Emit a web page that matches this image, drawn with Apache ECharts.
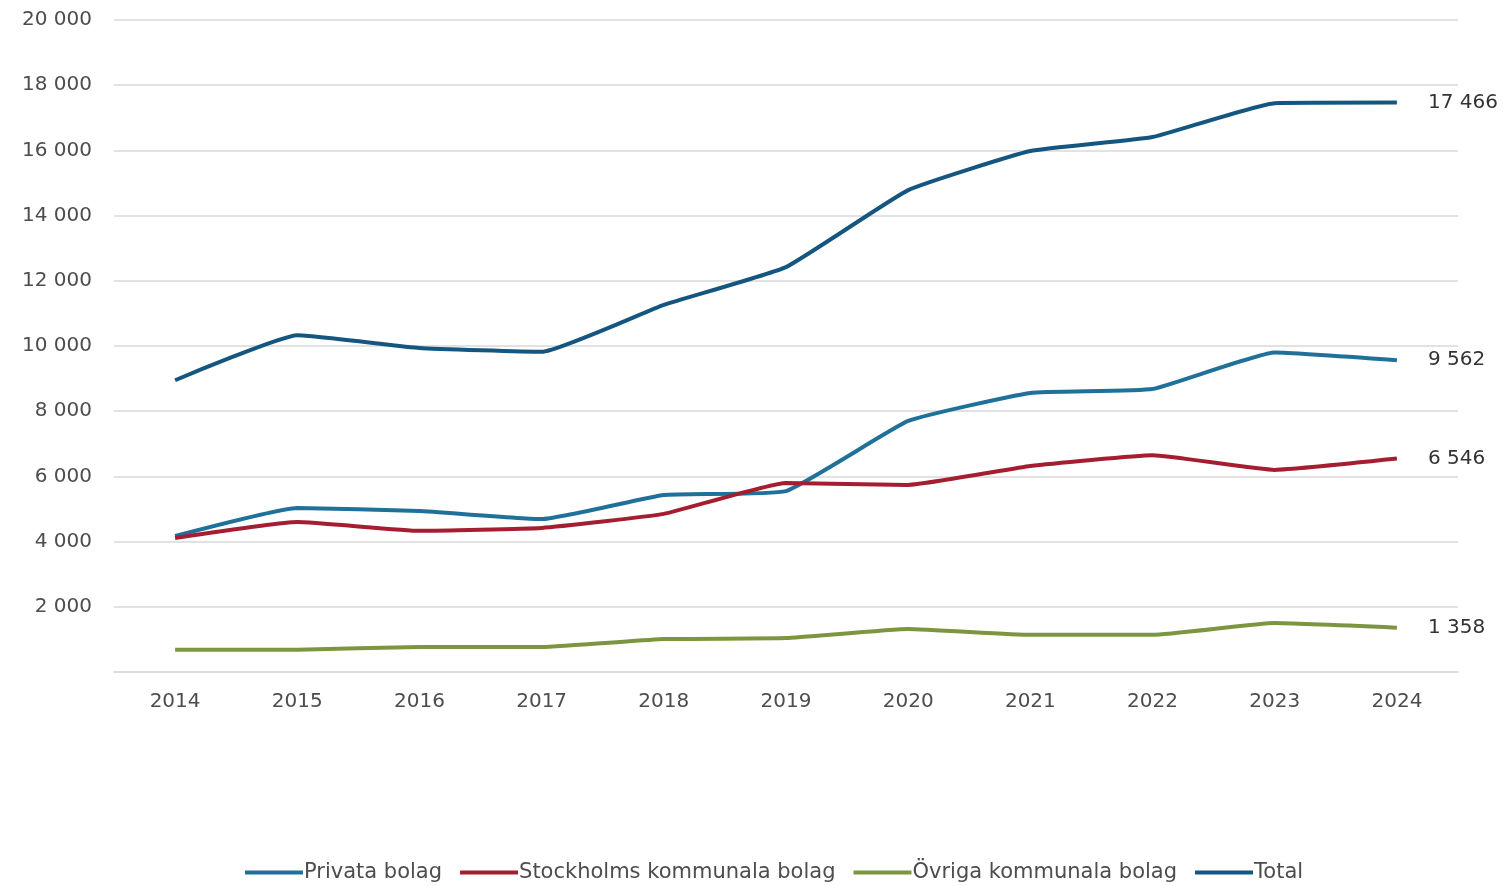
<!DOCTYPE html>
<html>
<head>
    <meta charset="utf-8">
    <title>Bolag 2014-2024</title>
    <script src="https://cdn.jsdelivr.net/npm/echarts@6/dist/echarts.min.js"></script>
</head>
<style>
    body { margin: 0; background: #fff; }
</style>
<body>
    <div id="main" style="width: 1506px;height:886px;"></div>
    <script type="text/javascript">
        // data
        var years = ['2014', '2015', '2016', '2017', '2018', '2019', '2020', '2021', '2022', '2023', '2024'];
        var privata = [4170, 5030, 4940, 4690, 5430, 5550, 7700, 8560, 8680, 9800, 9562];
        var stockholm = [4110, 4600, 4330, 4420, 4850, 5800, 5740, 6320, 6650, 6200, 6546];
        var ovriga = [680, 680, 770, 770, 1010, 1040, 1320, 1140, 1140, 1500, 1358];
        var total = [8950, 10330, 9940, 9820, 11260, 12420, 14780, 15980, 16410, 17450, 17466];

        function fmt(v) {
            return String(Math.round(v)).replace(/\B(?=(\d{3})+(?!\d))/g, ' ');
        }

        var font = 'DejaVu Sans';
        var txt = '#4d4d4d';

        function line(name, data, color) {
            return {
                name: name,
                type: 'line',
                data: data,
                smooth: 0.12,
                symbol: 'none',
                lineStyle: { width: 4, color: color },
                itemStyle: { color: color },
                endLabel: {
                    show: true,
                    distance: 31,
                    color: '#333',
                    fontFamily: font,
                    fontSize: 20,
                    formatter: function (p) { return fmt(p.value); }
                }
            };
        }

        var myChart = echarts.init(document.getElementById('main'));
        var option = {
            animation: false,
            grid: { left: 114, right: 48, top: 20, bottom: 214 },
            legend: {
                left: 240,
                bottom: -2,
                icon: 'rect',
                itemWidth: 58,
                itemHeight: 4,
                itemGap: 18,
                textStyle: { color: txt, fontFamily: font, fontSize: 21, padding: [0, 0, 0, -4] },
                data: ['Privata bolag', 'Stockholms kommunala bolag', 'Övriga kommunala bolag', 'Total']
            },
            xAxis: {
                type: 'category',
                data: years,
                axisLine: { lineStyle: { color: '#d9d9d9', width: 1.5 } },
                axisTick: { show: false },
                axisLabel: { color: txt, fontFamily: font, fontSize: 20, margin: 20 }
            },
            yAxis: {
                type: 'value',
                min: 0,
                max: 20000,
                interval: 2000,
                axisLine: { show: false },
                axisTick: { show: false },
                splitLine: { lineStyle: { color: '#d9d9d9', width: 1.5 } },
                axisLabel: {
                    color: txt, fontFamily: font, fontSize: 20, margin: 22,
                    formatter: function (v) { return v === 0 ? '' : fmt(v); }
                }
            },
            series: [
                line('Privata bolag', privata, '#1f7199'),
                line('Stockholms kommunala bolag', stockholm, '#a51d31'),
                line('Övriga kommunala bolag', ovriga, '#7c9640'),
                line('Total', total, '#14567f')
            ]
        };
        myChart.setOption(option);
    </script>
</body>
</html>
